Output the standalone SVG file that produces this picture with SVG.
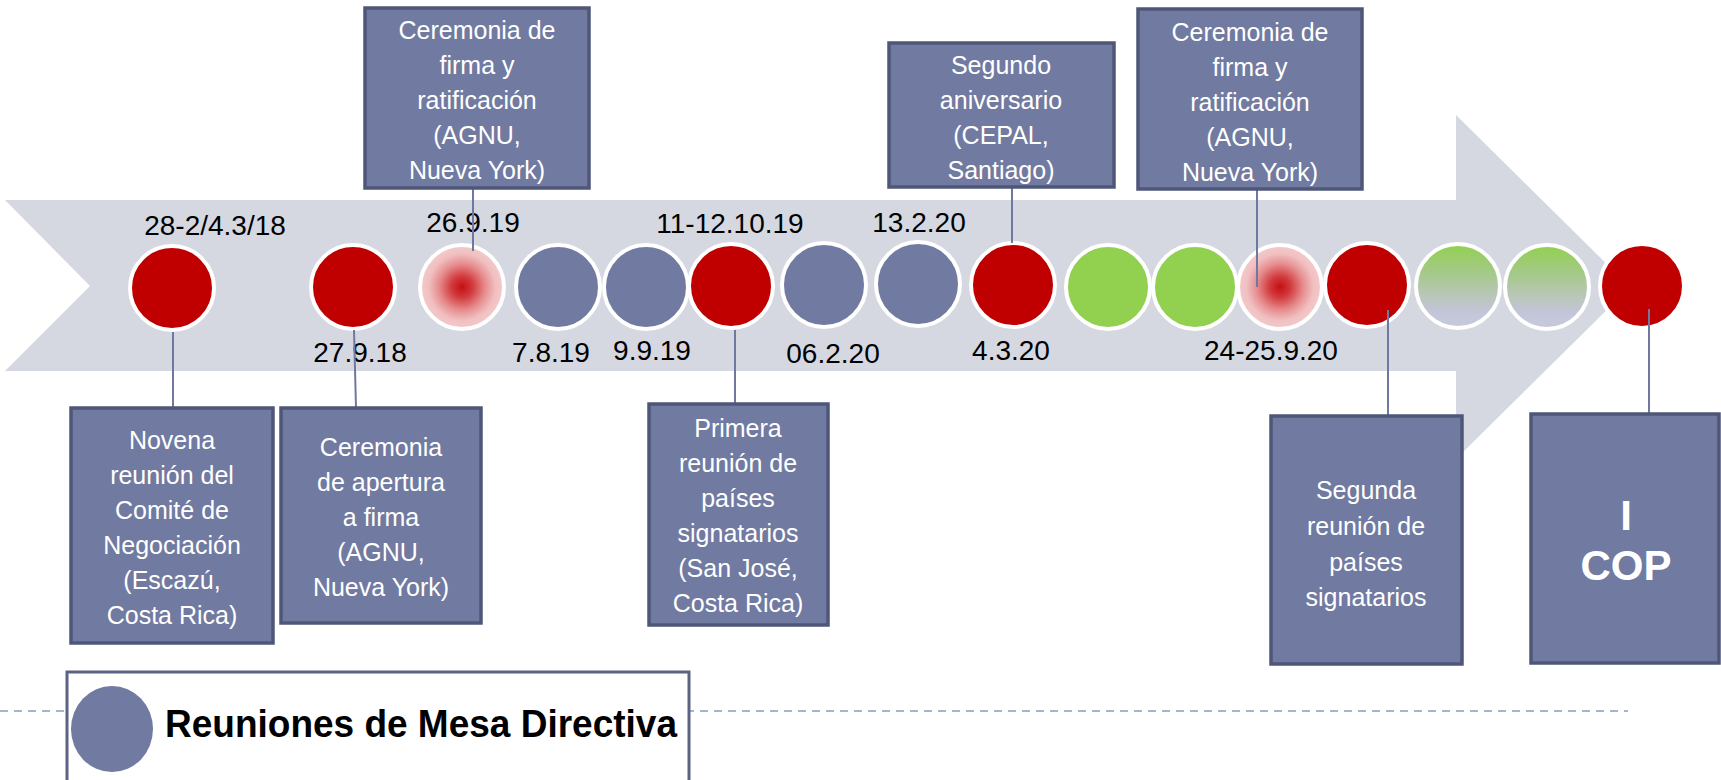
<svg xmlns="http://www.w3.org/2000/svg" width="1721" height="780" viewBox="0 0 1721 780">
<defs>
<radialGradient id="pink" cx="0.5" cy="0.5" r="0.5">
<stop offset="0" stop-color="#c40f14"/>
<stop offset="0.25" stop-color="#d23a3d"/>
<stop offset="0.55" stop-color="#e68c8e"/>
<stop offset="0.8" stop-color="#f1c0c1"/>
<stop offset="1" stop-color="#f4caca"/>
</radialGradient>
<linearGradient id="greengray" x1="0" y1="0" x2="0" y2="1">
<stop offset="0" stop-color="#92d050"/>
<stop offset="0.35" stop-color="#a5c98a"/>
<stop offset="0.65" stop-color="#bcc6bf"/>
<stop offset="0.82" stop-color="#c3c5da"/>
<stop offset="1" stop-color="#c8cadb"/>
</linearGradient>
<style>
.dot{stroke:#ffffff;stroke-width:4}
.red{fill:#c00000}
.blue{fill:#717aa0}
.green{fill:#92d050}
.box{fill:#717aa0;stroke:#4f5779;stroke-width:3.5}
.bt{font-family:"Liberation Sans",Arial,sans-serif;font-size:25px;fill:#ffffff;text-anchor:middle}
.date{font-family:"Liberation Sans",Arial,sans-serif;font-size:28px;fill:#000000;text-anchor:middle}
.conn{stroke:#6f78a0;stroke-width:2;fill:none}
</style>
</defs>
<rect width="1721" height="780" fill="#ffffff"/>
<g id="arrow">
<path d="M5,200 L1456,200 L1456,115 L1630,287 L1456,459 L1456,371 L5,371 L90,286 Z" fill="#d5d8e1"/>
</g>
<g id="divider">
<line x1="0" y1="711" x2="1628" y2="711" stroke="#a3b5cf" stroke-width="2" stroke-dasharray="8 6"/>
</g>
<g id="legend">
<rect x="67" y="672" width="622" height="120" fill="#ffffff" stroke="#5b6383" stroke-width="3"/>
<ellipse cx="112" cy="729" rx="41" ry="43" fill="#717aa0"/>
<text x="165" y="737" font-family="'Liberation Sans',Arial,sans-serif" font-weight="bold" font-size="38" fill="#000000" textLength="512" lengthAdjust="spacingAndGlyphs">Reuniones de Mesa Directiva</text>
</g>
<g id="ev1"><circle class="dot red" cx="172" cy="288" r="42"/><text class="date" x="215" y="235">28-2/4.3/18</text></g>
<g id="ev2"><circle class="dot red" cx="353" cy="287" r="42"/><text class="date" x="360" y="362">27.9.18</text></g>
<g id="ev3"><circle class="dot" fill="url(#pink)" cx="462" cy="287" r="42"/><text class="date" x="473" y="232">26.9.19</text></g>
<g id="ev4"><circle class="dot blue" cx="558" cy="287" r="42"/><text class="date" x="551" y="362">7.8.19</text></g>
<g id="ev5"><circle class="dot blue" cx="646" cy="287" r="42"/><text class="date" x="652" y="360">9.9.19</text></g>
<g id="ev6"><circle class="dot red" cx="731" cy="286" r="42"/><text class="date" x="730" y="233">11-12.10.19</text></g>
<g id="ev7"><circle class="dot blue" cx="824" cy="285" r="42"/><text class="date" x="833" y="363">06.2.20</text></g>
<g id="ev8"><circle class="dot blue" cx="918" cy="284" r="42"/><text class="date" x="919" y="232">13.2.20</text></g>
<g id="ev9"><circle class="dot red" cx="1013" cy="285" r="42"/><text class="date" x="1011" y="360">4.3.20</text></g>
<g id="ev10"><circle class="dot green" cx="1108" cy="287" r="42"/></g>
<g id="ev11"><circle class="dot green" cx="1195" cy="287" r="42"/></g>
<g id="ev12"><circle class="dot" fill="url(#pink)" cx="1280" cy="287" r="42"/><text class="date" x="1271" y="360">24-25.9.20</text></g>
<g id="ev13"><circle class="dot red" cx="1367" cy="285" r="42"/></g>
<g id="ev14"><circle class="dot" fill="url(#greengray)" cx="1458" cy="286" r="42"/></g>
<g id="ev15"><circle class="dot" fill="url(#greengray)" cx="1547" cy="287" r="42"/></g>
<g id="ev16"><circle class="dot red" cx="1642" cy="286" r="42"/></g>
<g id="connectors">
<line class="conn" x1="473" y1="188" x2="473" y2="251"/>
<line class="conn" x1="1012" y1="187" x2="1012" y2="243"/>
<line class="conn" x1="1257" y1="189" x2="1257" y2="287"/>
<line class="conn" x1="173" y1="332" x2="173" y2="408"/>
<line class="conn" x1="354" y1="330" x2="356" y2="408"/>
<line class="conn" x1="735" y1="330" x2="735" y2="404"/>
<line class="conn" x1="1388" y1="310" x2="1388" y2="416"/>
<line class="conn" x1="1649" y1="309" x2="1649" y2="414"/>
</g>
<g id="box-top1">
<rect class="box" x="365" y="8" width="224" height="180"/>
<text class="bt"><tspan x="477" y="39">Ceremonia de</tspan><tspan x="477" y="74">firma y</tspan><tspan x="477" y="109">ratificación</tspan><tspan x="477" y="144">(AGNU,</tspan><tspan x="477" y="179">Nueva York)</tspan></text>
</g>
<g id="box-top2">
<rect class="box" x="889" y="43" width="225" height="144"/>
<text class="bt"><tspan x="1001" y="74">Segundo</tspan><tspan x="1001" y="109">aniversario</tspan><tspan x="1001" y="144">(CEPAL,</tspan><tspan x="1001" y="179">Santiago)</tspan></text>
</g>
<g id="box-top3">
<rect class="box" x="1138" y="9" width="224" height="180"/>
<text class="bt"><tspan x="1250" y="41">Ceremonia de</tspan><tspan x="1250" y="76">firma y</tspan><tspan x="1250" y="111">ratificación</tspan><tspan x="1250" y="146">(AGNU,</tspan><tspan x="1250" y="181">Nueva York)</tspan></text>
</g>
<g id="box-a">
<rect class="box" x="71" y="408" width="202" height="235"/>
<text class="bt"><tspan x="172" y="449">Novena</tspan><tspan x="172" y="484">reunión del</tspan><tspan x="172" y="519">Comité de</tspan><tspan x="172" y="554">Negociación</tspan><tspan x="172" y="589">(Escazú,</tspan><tspan x="172" y="624">Costa Rica)</tspan></text>
</g>
<g id="box-b">
<rect class="box" x="281" y="408" width="200" height="215"/>
<text class="bt"><tspan x="381" y="456">Ceremonia</tspan><tspan x="381" y="491">de apertura</tspan><tspan x="381" y="526">a firma</tspan><tspan x="381" y="561">(AGNU,</tspan><tspan x="381" y="596">Nueva York)</tspan></text>
</g>
<g id="box-c">
<rect class="box" x="649" y="404" width="179" height="221"/>
<text class="bt"><tspan x="738" y="437">Primera</tspan><tspan x="738" y="472">reunión de</tspan><tspan x="738" y="507">países</tspan><tspan x="738" y="542">signatarios</tspan><tspan x="738" y="577">(San José,</tspan><tspan x="738" y="612">Costa Rica)</tspan></text>
</g>
<g id="box-d">
<rect class="box" x="1271" y="416" width="191" height="248"/>
<text class="bt"><tspan x="1366" y="499">Segunda</tspan><tspan x="1366" y="535">reunión de</tspan><tspan x="1366" y="571">países</tspan><tspan x="1366" y="606">signatarios</tspan></text>
</g>
<g id="box-e">
<rect class="box" x="1531" y="414" width="188" height="249"/>
<text class="bt" font-weight="bold" font-size="42"><tspan x="1626" y="530" style="font-size:42px;font-weight:bold">I</tspan><tspan x="1626" y="580" style="font-size:42px;font-weight:bold">COP</tspan></text>
</g>
</svg>
